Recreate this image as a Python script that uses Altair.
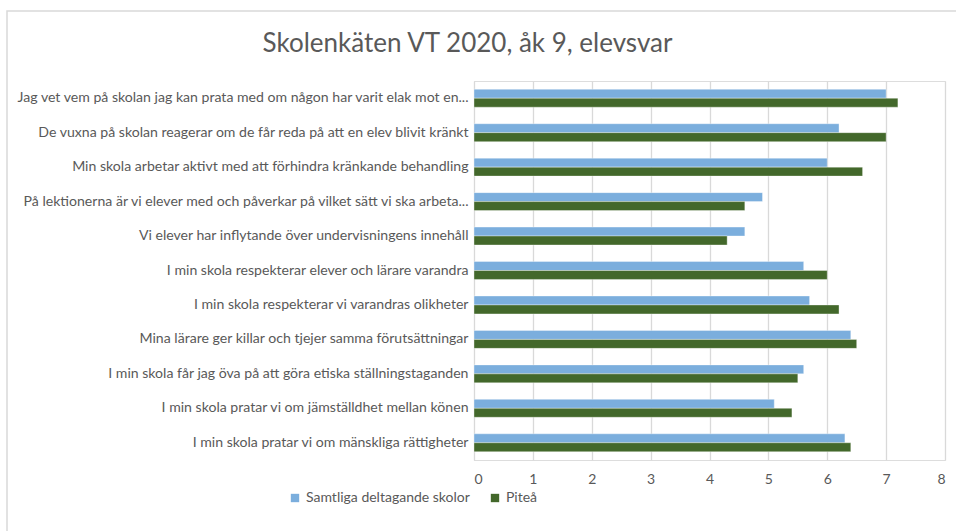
import altair as alt
import pandas as pd

categories = [
    "Jag vet vem på skolan jag kan prata med om någon har varit elak mot en...",
    "De vuxna på skolan reagerar om de får reda på att en elev blivit kränkt",
    "Min skola arbetar aktivt med att förhindra kränkande behandling",
    "På lektionerna är vi elever med och påverkar på vilket sätt vi ska arbeta...",
    "Vi elever har inflytande över undervisningens innehåll",
    "I min skola respekterar elever och lärare varandra",
    "I min skola respekterar vi varandras olikheter",
    "Mina lärare ger killar och tjejer samma förutsättningar",
    "I min skola får jag öva på att göra etiska ställningstaganden",
    "I min skola pratar vi om jämställdhet mellan könen",
    "I min skola pratar vi om mänskliga rättigheter",
]
series_names = ["Samtliga deltagande skolor", "Piteå"]
samtliga = [7.0, 6.2, 6.0, 4.9, 4.6, 5.6, 5.7, 6.4, 5.6, 5.1, 6.3]
pitea = [7.2, 7.0, 6.6, 4.6, 4.3, 6.0, 6.2, 6.5, 5.5, 5.4, 6.4]
x_ticks = [0, 1, 2, 3, 4, 5, 6, 7, 8]
colors = ["#7BAEDD", "#43682B"]

rows = []
for c, a, b in zip(categories, samtliga, pitea):
    rows.append({"fråga": c, "serie": series_names[0], "värde": a})
    rows.append({"fråga": c, "serie": series_names[1], "värde": b})
df = pd.DataFrame(rows)

FONT = "Lato"
GREY = "#595959"

bars = (
    alt.Chart(df)
    .mark_bar(stroke="white", strokeWidth=0.6, strokeOpacity=0.6)
    .encode(
        y=alt.Y(
            "fråga:N",
            sort=categories,
            scale=alt.Scale(paddingInner=0.48, paddingOuter=0.24),
            axis=alt.Axis(
                title=None,
                ticks=False,
                domain=True,
                domainColor="#d9d9d9",
                labelPadding=6,
                labelLimit=480,
                labelFontSize=14.1,
                labelColor=GREY,
                labelFont=FONT,
                grid=False,
            ),
        ),
        yOffset=alt.YOffset("serie:N", sort=series_names),
        x=alt.X(
            "värde:Q",
            scale=alt.Scale(domain=[0, 8], nice=False),
            axis=alt.Axis(
                title=None,
                values=x_ticks,
                format="d",
                ticks=False,
                domain=False,
                grid=True,
                gridColor="#d9d9d9",
                gridWidth=1.3,
                labelPadding=12,
                labelFontSize=14,
                labelColor=GREY,
                labelFont=FONT,
            ),
        ),
        color=alt.Color(
            "serie:N",
            sort=series_names,
            scale=alt.Scale(domain=series_names, range=colors),
            legend=alt.Legend(
                title=None,
                orient="none",
                direction="horizontal",
                legendX=-186,
                legendY=410,
                symbolType="square",
                symbolSize=70,
                symbolStrokeWidth=0,
                labelFontSize=14,
                labelLimit=300,
                labelColor=GREY,
                labelFont=FONT,
                columnPadding=18,
                labelOffset=4,
            ),
        ),
    )
)

frame = (
    alt.Chart(alt.Data(values=[{}]))
    .mark_rect(fill=None, stroke="#d9d9d9", strokeWidth=1.5)
    .encode(
        x=alt.value(-467),
        x2=alt.value(520),
        y=alt.value(-70),
        y2=alt.value(465),
    )
)

chart = (
    alt.layer(frame, bars)
    .properties(
        width=471,
        height=379,
        padding={"left": 474, "top": 81, "right": 11, "bottom": 71},
        autosize=alt.AutoSizeParams(type="none"),
        title=alt.TitleParams(
            "Skolenkäten VT 2020, åk 9, elevsvar",
            fontSize=26,
            font=FONT,
            fontWeight="normal",
            color=GREY,
            anchor="middle",
            frame="group",
            dx=-242,
            offset=-47,
        ),
    )
    .configure_view(stroke=None)
    .configure(background="white")
)

chart.save("out.html", embed_options={"renderer": "svg", "actions": False})
